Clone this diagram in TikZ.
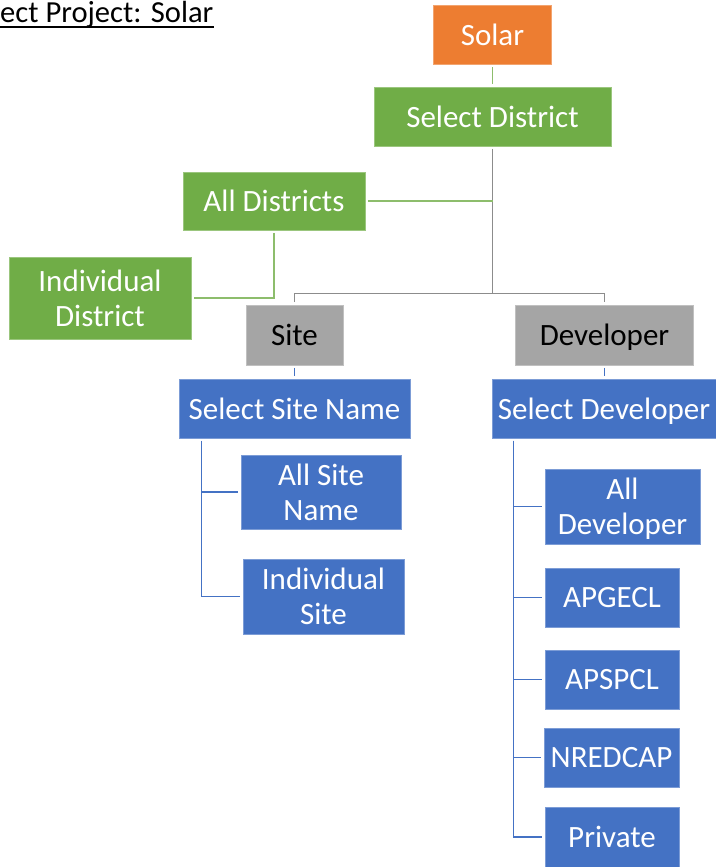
\documentclass[tikz,border=0pt]{standalone}
\usepackage{fontspec}
\setmainfont{Carlito}
\usetikzlibrary{calc}
\definecolor{solarorange}{HTML}{ED7D31}
\definecolor{distgreen}{HTML}{70AD47}
\definecolor{choicegray}{HTML}{A5A5A5}
\definecolor{pickblue}{HTML}{4472C4}

\begin{document}
\begin{tikzpicture}[x=1pt,y=-1pt,
  box/.style={rectangle,inner sep=0pt,align=center,line width=.8pt,text depth=0pt,
    font=\fontsize{31}{35}\selectfont,text=white},
  orangebox/.style={box,fill=solarorange,draw=solarorange!70!white},
  greenbox/.style={box,fill=distgreen,draw=distgreen!70!white},
  graybox/.style={box,fill=choicegray,draw=choicegray!70!white,text=black},
  bluebox/.style={box,fill=pickblue,draw=pickblue!70!white},
  link/.style={line width=1.2pt,shorten <=2.5pt,shorten >=2.5pt},
  greenlink/.style={link,draw=distgreen!80!white},
  graylink/.style={link,draw=black!45},
  bluelink/.style={link,draw=pickblue}]
\useasboundingbox (0,0) rectangle (715,867);

% title
\node[anchor=base west,inner sep=0pt,font=\fontsize{30.6}{35}\selectfont] (title) at (0,22.7) {ect Project: Solar};
\draw[line width=1.8pt] ([yshift=-4.6pt]title.base west) -- ([yshift=-4.6pt]title.base east);

% district part
\node[orangebox,minimum width=118pt,minimum height=59pt] (solar) at (492.5,34.5) {Solar};
\node[greenbox,minimum width=237pt,minimum height=59pt] (seldist) at (492.5,116.5) {Select District};
\node[greenbox,minimum width=182pt,minimum height=58pt] (alldist) at (274,201) {All Districts};
\node[greenbox,minimum width=182pt,minimum height=82pt] (inddist) at (100,298) {Individual\\District};

% site / developer
\node[graybox,minimum width=97pt,minimum height=60pt] (site) at (294.5,335) {Site};
\node[graybox,minimum width=178pt,minimum height=60pt] (dev) at (604.5,335) {Developer};
\node[bluebox,minimum width=231pt,minimum height=59pt] (selsite) at (294.5,408.5) {Select Site Name};
\node[bluebox,minimum width=224pt,minimum height=59pt] (seldev) at (604,408.5) {Select Developer};

% site names
\node[bluebox,minimum width=160pt,minimum height=74pt] (allsite) at (321,492) {All Site\\Name};
\node[bluebox,minimum width=161pt,minimum height=75pt] (indsite) at (323.5,596.5) {Individual\\Site};

% developers
\node[bluebox,minimum width=155pt,minimum height=75pt] (alldev) at (622.5,506.5) {All\\Developer};
\node[bluebox,minimum width=134pt,minimum height=59pt] (apgecl) at (612,597.5) {APGECL};
\node[bluebox,minimum width=134pt,minimum height=59pt] (apspcl) at (612,679.5) {APSPCL};
\node[bluebox,minimum width=135pt,minimum height=59pt] (nredcap) at (611.5,757.5) {NREDCAP};
\node[bluebox,minimum width=134pt,minimum height=60pt] (private) at (612,837) {Private};

% connectors
\coordinate (split) at (492.5,293.5);
\draw[greenlink] (solar) -- (seldist);
\draw[graylink,shorten >=0pt] (seldist.south) -- (split);
\draw[graylink] (site.north) |- (split) -| (dev.north);
\draw[greenlink,shorten >=0pt] (alldist.east) -- (alldist.east -| split);
\draw[greenlink] (alldist.south) |- (inddist.east);
\draw[bluelink] (site) -- (selsite);
\draw[bluelink] (dev.south) -- (dev.south |- seldev.north);

\coordinate (sitespine) at ([xshift=22.5pt]selsite.south west);
\draw[bluelink] (sitespine) |- (allsite.west);
\draw[bluelink] (sitespine) |- (indsite.west);

\coordinate (devspine) at ([xshift=22pt]seldev.south west);
\foreach \dv in {alldev,apgecl,apspcl,nredcap,private}
  \draw[bluelink] (devspine) |- (\dv.west);
\end{tikzpicture}
\end{document}
